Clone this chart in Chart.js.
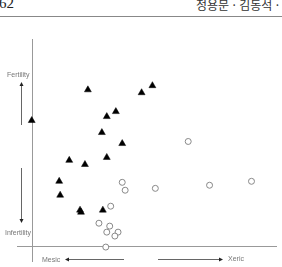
<!DOCTYPE html>
<html lang="ko">
<head>
<meta charset="UTF-8">
<title>Fertility / moisture ordination</title>
<script src="https://cdn.jsdelivr.net/npm/chart.js"></script>
<style>
  html, body { margin: 0; padding: 0; background: #fff; }
  #wrap { position: relative; width: 282px; height: 267px; overflow: hidden; }
  #plot { position: absolute; left: 0; top: 0; }
  .lbl { position: absolute; font-family: "Liberation Sans", Arial, sans-serif; font-size: 7px; color: #777; white-space: nowrap; line-height: 1; }
  #pageNo { position: absolute; left: -1px; top: -4px; font-family: "Liberation Serif", serif; font-size: 15px; color: #222; line-height: 1; }
  #authors { position: absolute; left: 196px; top: -2px; font-family: "Noto Sans CJK KR", sans-serif; font-size: 12px; color: #333; white-space: nowrap; line-height: 1.1; }
  #rule { position: absolute; left: 0; top: 16px; width: 282px; height: 1px; background: #888; }
</style>
</head>
<body>
<div id="wrap">
  <div id="pageNo">62</div>
  <div id="authors">정용문 · 김동석 ·</div>
  <div id="rule"></div>
  <canvas id="plot" width="282" height="267"></canvas>
  <div class="lbl" style="left:7px;top:71px">Fertility</div>
  <div class="lbl" style="left:5px;top:229px">Infertility</div>
  <div class="lbl" style="left:42px;top:256px">Mesic</div>
  <div class="lbl" style="left:228px;top:255px">Xeric</div>
</div>
<script>
// sites drawn as filled triangles
const triX = [0, 22.9, 44.8, 49.2, 34.3, 30.6, 28.6, 36.9, 15.3, 30.6, 21.7, 11.2, 11.6, 19.7, 20.1, 29.0];
const triY = [60.7, 75.5, 74.1, 77.5, 65.0, 62.6, 54.9, 49.6, 41.5, 42.9, 39.5, 31.4, 24.7, 17.5, 16.5, 17.5];
// sites drawn as open circles
const circX = [63.8, 36.9, 38.1, 50.4, 72.5, 89.6, 32.2, 27.4, 31.8, 35.2, 30.6, 33.9, 30.2];
const circY = [50.6, 30.9, 27.1, 28.0, 29.5, 31.4, 19.4, 11.2, 9.8, 6.9, 6.9, 5.0, -0.3];

const toPoints = (xs, ys) => xs.map((x, i) => ({ x: x, y: ys[i] }));

// the two zero lines act as the axes
const axesPlugin = {
    id: 'axes',
    beforeDatasetsDraw(chart) {
        const { ctx, chartArea, scales } = chart;
        const x0 = Math.round(scales.x.getPixelForValue(0)) + 0.5;
        const y0 = Math.round(scales.y.getPixelForValue(0)) + 0.5;
        ctx.save();
        ctx.strokeStyle = '#999';
        ctx.lineWidth = 1;
        ctx.beginPath();
        ctx.moveTo(x0, chartArea.top);
        ctx.lineTo(x0, chartArea.bottom);
        ctx.moveTo(chartArea.left, y0);
        ctx.lineTo(chartArea.right, y0);
        ctx.stroke();
        ctx.restore();
    }
};

// gradient arrows beside the axes
const arrows = [
    { from: [21, 125], to: [21, 82] },
    { from: [21, 168], to: [21, 223] },
    { from: [124, 259], to: [65, 259] },
    { from: [158, 259], to: [223, 259] }
];

const arrowPlugin = {
    id: 'arrows',
    afterDraw(chart) {
        const ctx = chart.ctx;
        ctx.save();
        arrows.forEach(a => {
            const [x1, y1] = a.from, [x2, y2] = a.to;
            const ang = Math.atan2(y2 - y1, x2 - x1);
            const off = (x1 === x2) ? [0.5, 0] : [0, 0.5];
            ctx.strokeStyle = '#666';
            ctx.lineWidth = 1;
            ctx.beginPath();
            ctx.moveTo(x1 + off[0], y1 + off[1]);
            ctx.lineTo(x2 - Math.cos(ang) * 3 + off[0], y2 - Math.sin(ang) * 3 + off[1]);
            ctx.stroke();
            ctx.fillStyle = '#222';
            ctx.beginPath();
            ctx.moveTo(x2 + off[0], y2 + off[1]);
            ctx.lineTo(x2 - Math.cos(ang) * 4 - Math.sin(ang) * 2 + off[0], y2 - Math.sin(ang) * 4 + Math.cos(ang) * 2 + off[1]);
            ctx.lineTo(x2 - Math.cos(ang) * 4 + Math.sin(ang) * 2 + off[0], y2 - Math.sin(ang) * 4 - Math.cos(ang) * 2 + off[1]);
            ctx.closePath();
            ctx.fill();
        });
        ctx.restore();
    }
};

new Chart(document.getElementById('plot').getContext('2d'), {
    type: 'scatter',
    data: {
        datasets: [
            {
                label: 'triangles',
                data: toPoints(triX, triY),
                pointStyle: 'triangle',
                pointRadius: 4,
                backgroundColor: '#000',
                borderColor: '#000',
                borderWidth: 0.5
            },
            {
                label: 'circles',
                data: toPoints(circX, circY),
                pointStyle: 'circle',
                pointRadius: 3,
                backgroundColor: '#fff',
                borderColor: '#888',
                borderWidth: 1
            }
        ]
    },
    options: {
        responsive: false,
        animation: false,
        events: [],
        clip: false,
        layout: { padding: { left: 17, right: 3, top: 39, bottom: 4 } },
        plugins: { legend: { display: false }, tooltip: { enabled: false } },
        scales: {
            x: { display: false, min: -6, max: 100 },
            y: { display: false, min: -7.5, max: 100 }
        }
    },
    plugins: [axesPlugin, arrowPlugin]
});
</script>
</body>
</html>
